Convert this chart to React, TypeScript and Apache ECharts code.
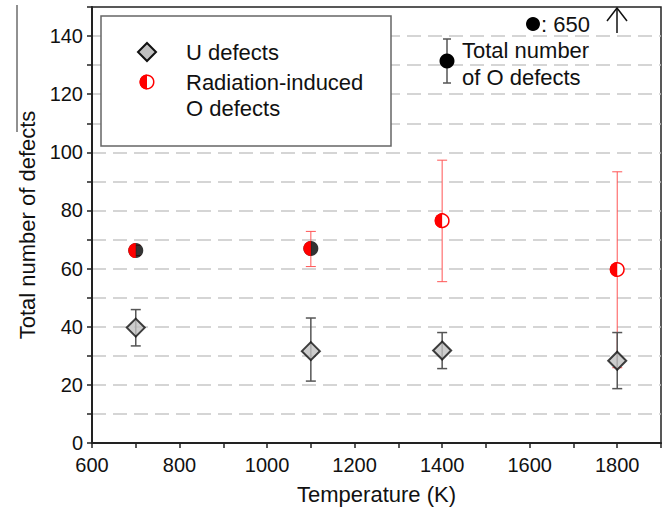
import React, { useEffect, useRef } from "react";
import * as echarts from "echarts";

const temps = [700, 1100, 1400, 1800];
const uDefects = [39.7, 31.6, 31.8, 28.3];
const uErrLow = [33.4, 21.3, 25.6, 18.7];
const uErrHigh = [45.9, 43.0, 38.0, 38.0];
const radO = [66.2, 66.9, 76.5, 59.7];
const radOErrLow = [64.5, 60.7, 55.5, 25.9];
const radOErrHigh = [68.0, 72.8, 97.3, 93.3];
const totalOTemps = [700, 1100];
const totalO = [66.2, 66.9];
const xTickLabels = [600, 800, 1000, 1200, 1400, 1600, 1800];
const yTickLabels = [0, 20, 40, 60, 80, 100, 120, 140];

const FONT = "'Liberation Sans', Arial, sans-serif";

function errorBarItem(color: string, lw: number, cap: number) {
  return (params: any, api: any) => {
    const x = api.value(0);
    const lo = api.value(1);
    const hi = api.value(2);
    const p1 = api.coord([x, lo]);
    const p2 = api.coord([x, hi]);
    const style = { stroke: color, lineWidth: lw };
    return {
      type: "group",
      children: [
        { type: "line", shape: { x1: p1[0], y1: p1[1], x2: p2[0], y2: p2[1] }, style },
        { type: "line", shape: { x1: p1[0] - cap, y1: p1[1], x2: p1[0] + cap, y2: p1[1] }, style },
        { type: "line", shape: { x1: p2[0] - cap, y1: p2[1], x2: p2[0] + cap, y2: p2[1] }, style },
      ],
    };
  };
}

export default function App() {
  const ref = useRef<HTMLDivElement>(null);
  useEffect(() => {
    document.body.style.margin = "0";
    if (!ref.current) return;
    const chart = echarts.init(ref.current, undefined, { renderer: "svg" });
    const R = 7.5;
    const option: any = {
      animation: false,
      backgroundColor: "#ffffff",
      grid: {
        left: 92,
        top: 7,
        right: 3,
        bottom: 76,
        show: true,
        borderColor: "#222",
        borderWidth: 1.5,
        backgroundColor: "transparent",
      },
      xAxis: {
        type: "value",
        min: 600,
        max: 1900,
        interval: 100,
        name: "Temperature (K)",
        nameLocation: "middle",
        nameGap: 40,
        nameTextStyle: { fontFamily: FONT, fontSize: 22, color: "#111" },
        axisLine: { show: true, onZero: false, lineStyle: { color: "#222", width: 2 } },
        axisTick: { show: true, inside: false, length: 5, lineStyle: { color: "#222", width: 1.5 } },
        axisLabel: {
          margin: 12,
          fontFamily: FONT,
          fontSize: 20,
          color: "#111",
          showMaxLabel: true,
          formatter: (v: number) => (xTickLabels.includes(v) ? String(v) : ""),
        },
        splitLine: { show: false },
      },
      yAxis: {
        type: "value",
        min: 0,
        max: 150,
        interval: 10,
        name: "Total number of defects",
        nameLocation: "middle",
        nameGap: 52,
        nameTextStyle: { fontFamily: FONT, fontSize: 22, color: "#111" },
        axisLine: { show: true, onZero: false, lineStyle: { color: "#222", width: 2 } },
        axisTick: { show: true, inside: false, length: 5, lineStyle: { color: "#222", width: 1.5 } },
        axisLabel: {
          margin: 9,
          fontFamily: FONT,
          fontSize: 20,
          color: "#111",
          formatter: (v: number) => (yTickLabels.includes(v) ? String(v) : ""),
        },
        splitLine: {
          show: true,
          showMinLine: false,
          showMaxLine: false,
          lineStyle: { color: "#c8c8c8", width: 1.5, type: [14, 7] },
        },
      },
      series: [
        {
          type: "custom",
          name: "radO err",
          renderItem: errorBarItem("#ff5555", 1, 5),
          data: temps.map((t, i) => [t, radOErrLow[i], radOErrHigh[i]]),
          encode: { x: 0, y: [1, 2] },
          z: 2,
        },
        {
          type: "custom",
          name: "U err",
          renderItem: errorBarItem("#555", 1.5, 5),
          data: temps.map((t, i) => [t, uErrLow[i], uErrHigh[i]]),
          encode: { x: 0, y: [1, 2] },
          z: 3,
        },
        {
          type: "scatter",
          name: "U defects",
          symbol: "diamond",
          symbolSize: 18,
          itemStyle: { color: "#c0c0c0", borderColor: "#111", borderWidth: 2 },
          data: temps.map((t, i) => [t, uDefects[i]]),
          z: 4,
        },
        {
          type: "scatter",
          name: "Total O",
          symbol: "circle",
          symbolSize: 2 * R,
          itemStyle: { color: "#000" },
          data: totalOTemps.map((t, i) => [t, totalO[i]]),
          z: 5,
        },
        {
          type: "custom",
          name: "Radiation-induced O defects",
          renderItem: (params: any, api: any) => {
            const x = api.value(0);
            const y = api.value(1);
            const p = api.coord([x, y]);
            const hasBlack = totalOTemps.includes(x);
            const children: any[] = [];
            if (!hasBlack) {
              children.push({
                type: "circle",
                shape: { cx: p[0], cy: p[1], r: R - 0.75 },
                style: { fill: "#fff", stroke: "#ff0000", lineWidth: 1.5 },
              });
            }
            children.push({
              type: "sector",
              shape: {
                cx: p[0],
                cy: p[1],
                r0: 0,
                r: R,
                startAngle: Math.PI / 2,
                endAngle: (Math.PI * 3) / 2,
                clockwise: true,
              },
              style: { fill: "#ff0000" },
            });
            return { type: "group", children };
          },
          data: temps.map((t, i) => [t, radO[i]]),
          encode: { x: 0, y: 1 },
          z: 6,
        },
      ],
      graphic: [
        {
          type: "line",
          shape: { x1: 17, y1: 5, x2: 17, y2: 132 },
          style: { stroke: "#222", lineWidth: 1 },
          z: 100,
        },
        {
          type: "rect",
          shape: { x: 101, y: 16, width: 290, height: 130 },
          style: { fill: "#fff", stroke: "#666", lineWidth: 1.5 },
          z: 100,
        },
        {
          type: "polygon",
          shape: { points: [[147, 43], [156, 52], [147, 61], [138, 52]] },
          style: { fill: "#c0c0c0", stroke: "#111", lineWidth: 2 },
          z: 101,
        },
        {
          type: "text",
          style: { x: 186, y: 52, text: "U defects", fontFamily: FONT, fontSize: 22, fill: "#111", verticalAlign: "middle" },
          z: 101,
        },
        {
          type: "circle",
          shape: { cx: 147, cy: 82, r: R - 0.75 },
          style: { fill: "#fff", stroke: "#ff0000", lineWidth: 1.5 },
          z: 101,
        },
        {
          type: "sector",
          shape: { cx: 147, cy: 82, r0: 0, r: R, startAngle: Math.PI / 2, endAngle: (Math.PI * 3) / 2, clockwise: true },
          style: { fill: "#ff0000" },
          z: 102,
        },
        {
          type: "text",
          style: { x: 186, y: 82, text: "Radiation-induced", fontFamily: FONT, fontSize: 22, fill: "#111", verticalAlign: "middle" },
          z: 101,
        },
        {
          type: "text",
          style: { x: 186, y: 108, text: "O defects", fontFamily: FONT, fontSize: 22, fill: "#111", verticalAlign: "middle" },
          z: 101,
        },
        {
          type: "line",
          shape: { x1: 447, y1: 39, x2: 447, y2: 83 },
          style: { stroke: "#555", lineWidth: 1.5 },
          z: 101,
        },
        {
          type: "line",
          shape: { x1: 443, y1: 39, x2: 451, y2: 39 },
          style: { stroke: "#555", lineWidth: 1.5 },
          z: 101,
        },
        {
          type: "line",
          shape: { x1: 443, y1: 83, x2: 451, y2: 83 },
          style: { stroke: "#555", lineWidth: 1.5 },
          z: 101,
        },
        {
          type: "circle",
          shape: { cx: 447, cy: 61, r: R },
          style: { fill: "#000" },
          z: 102,
        },
        {
          type: "text",
          style: { x: 462, y: 50, text: "Total number", fontFamily: FONT, fontSize: 22, fill: "#111", verticalAlign: "middle" },
          z: 101,
        },
        {
          type: "text",
          style: { x: 462, y: 77, text: "of O defects", fontFamily: FONT, fontSize: 22, fill: "#111", verticalAlign: "middle" },
          z: 101,
        },
        {
          type: "circle",
          shape: { cx: 533, cy: 24, r: 7 },
          style: { fill: "#000" },
          z: 101,
        },
        {
          type: "text",
          style: { x: 541, y: 24, text: ": 650", fontFamily: FONT, fontSize: 22, fill: "#111", verticalAlign: "middle" },
          z: 101,
        },
        {
          type: "polyline",
          shape: { points: [[607, 21], [617, 8], [627, 21]] },
          style: { stroke: "#111", lineWidth: 1.5, fill: null },
          z: 101,
        },
        {
          type: "line",
          shape: { x1: 617, y1: 8, x2: 617, y2: 33 },
          style: { stroke: "#111", lineWidth: 1.5 },
          z: 101,
        },
      ],
    };
    chart.setOption(option);
    return () => chart.dispose();
  }, []);
  return <div ref={ref} style={{ width: 664, height: 519 }} />;
}
